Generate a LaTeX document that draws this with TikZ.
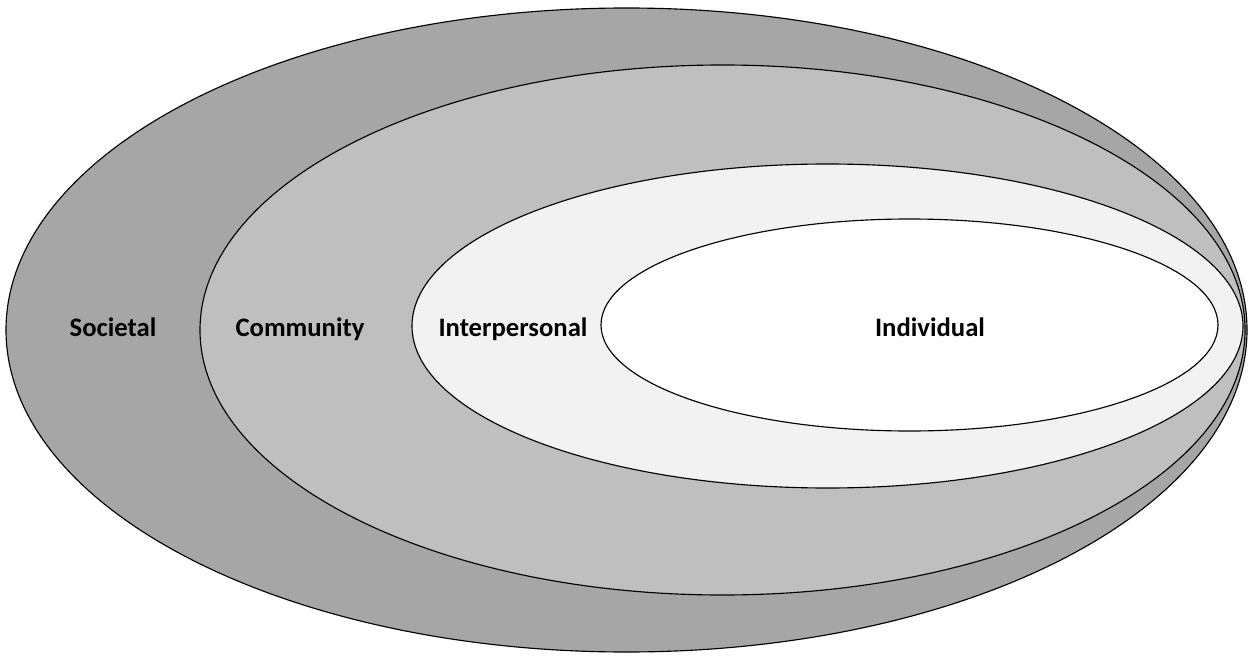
\documentclass[tikz,border=0pt]{standalone}
\usepackage{fontspec}
\setmainfont{Carlito}
\definecolor{societalgray}{HTML}{A6A6A6}
\definecolor{communitygray}{HTML}{BFBFBF}
\definecolor{interpgray}{HTML}{F2F2F2}
\begin{document}
\begin{tikzpicture}[x=0.75pt,y=-0.75pt,
  ring/.style={draw=black, line width=0.85pt},
  lbl/.style={font=\fontsize{20}{24}\selectfont\bfseries, inner sep=0pt, text=black, anchor=base}]
\useasboundingbox (0,0) rectangle (1256,656);
\fill[white] (0,0) rectangle (1256,656);
\path[ring, fill=societalgray] (626.5,330) ellipse [x radius=620.5, y radius=322];
\path[ring, fill=communitygray] (722.5,330) ellipse [x radius=522.5, y radius=265];
\path[ring, fill=interpgray] (827.5,326) ellipse [x radius=415.5, y radius=162];
\path[ring, fill=white] (909.5,325) ellipse [x radius=308.5, y radius=106];
\node[lbl] (societal) at (113,336) {Societal};
\node[lbl] (community) at (300,336) {Community};
\node[lbl] (interpersonal) at (513,336) {Interpersonal};
\node[lbl] (individual) at (930,336) {Individual};
\end{tikzpicture}
\end{document}
